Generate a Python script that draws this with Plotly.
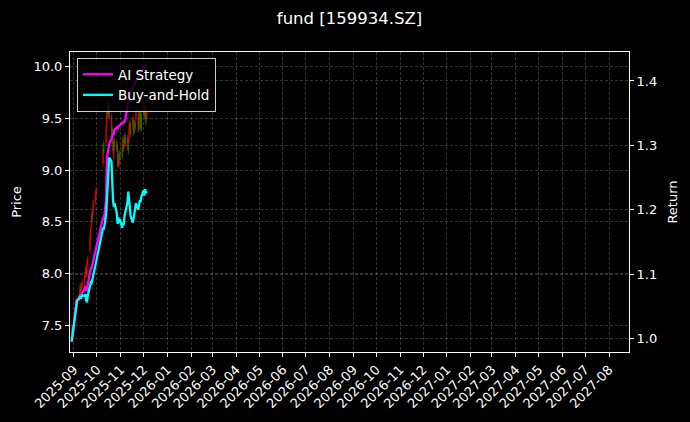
import plotly.graph_objects as go

dates = ["2025-08-29", "2025-09-01", "2025-09-02", "2025-09-03", "2025-09-04", "2025-09-05",
         "2025-09-08", "2025-09-09", "2025-09-10", "2025-09-11", "2025-09-12",
         "2025-09-15", "2025-09-16", "2025-09-17", "2025-09-18", "2025-09-19",
         "2025-09-22", "2025-09-23", "2025-09-24", "2025-09-25", "2025-09-26",
         "2025-09-29", "2025-09-30", "2025-10-09", "2025-10-10",
         "2025-10-13", "2025-10-14", "2025-10-15", "2025-10-16", "2025-10-17",
         "2025-10-20", "2025-10-21", "2025-10-22", "2025-10-23", "2025-10-24",
         "2025-10-27", "2025-10-28", "2025-10-29", "2025-10-30", "2025-10-31",
         "2025-11-03", "2025-11-04", "2025-11-05", "2025-11-06", "2025-11-07",
         "2025-11-10", "2025-11-11", "2025-11-12", "2025-11-13", "2025-11-14",
         "2025-11-17", "2025-11-18", "2025-11-19", "2025-11-20", "2025-11-21",
         "2025-11-24", "2025-11-25", "2025-11-26", "2025-11-27", "2025-11-28",
         "2025-12-01", "2025-12-02", "2025-12-03", "2025-12-04", "2025-12-05"]

price_open = [7.40, 7.46, 7.58, 7.65, 7.72, 7.68, 7.76, 7.80, 7.87, 7.83, 7.89,
              7.91, 7.98, 8.04, 7.99, 8.10, 8.22, 8.36, 8.47, 8.57, 8.58,
              8.69, 8.77, 9.06, 9.26, 9.26, 9.45, 9.66, 9.54, 9.62,
              9.36, 9.40, 9.28, 9.12, 9.28, 9.20, 9.22, 9.05, 9.06, 9.16,
              9.20, 9.31, 9.20, 9.24, 9.32, 9.22, 9.29, 9.29, 9.40, 9.44,
              9.42, 9.47, 9.38, 9.46, 9.51, 9.55, 9.40, 9.50, 9.55, 9.54,
              9.55, 9.61, 9.52, 9.57, 9.50]
price_close = [7.46, 7.58, 7.65, 7.72, 7.68, 7.76, 7.80, 7.87, 7.83, 7.89, 7.91,
               7.98, 8.04, 7.99, 8.10, 8.14, 8.36, 8.44, 8.57, 8.53, 8.69,
               8.77, 8.81, 9.20, 9.18, 9.42, 9.56, 9.54, 9.63, 9.50,
               9.52, 9.28, 9.18, 9.28, 9.22, 9.27, 9.06, 9.13, 9.16, 9.10,
               9.13, 9.21, 9.26, 9.33, 9.26, 9.31, 9.18, 9.42, 9.46, 9.35,
               9.51, 9.36, 9.45, 9.41, 9.58, 9.39, 9.50, 9.56, 9.41, 9.40,
               9.65, 9.52, 9.60, 9.46, 9.56]
price_high = [7.49, 7.61, 7.68, 7.75, 7.75, 7.79, 7.83, 7.90, 7.90, 7.92, 7.94,
              8.01, 8.07, 8.07, 8.13, 8.17, 8.39, 8.47, 8.60, 8.60, 8.72,
              8.80, 8.84, 9.23, 9.29, 9.45, 9.59, 9.69, 9.66, 9.65,
              9.55, 9.43, 9.31, 9.31, 9.31, 9.30, 9.25, 9.16, 9.19, 9.19,
              9.23, 9.34, 9.29, 9.36, 9.35, 9.34, 9.32, 9.45, 9.49, 9.47,
              9.54, 9.50, 9.48, 9.49, 9.61, 9.58, 9.53, 9.59, 9.58, 9.57,
              9.68, 9.64, 9.63, 9.60, 9.59]
price_low = [7.37, 7.43, 7.55, 7.62, 7.65, 7.65, 7.73, 7.77, 7.80, 7.80, 7.86,
             7.88, 7.95, 7.96, 7.96, 8.07, 8.19, 8.33, 8.44, 8.50, 8.55,
             8.66, 8.74, 9.03, 9.15, 9.23, 9.42, 9.51, 9.51, 9.47,
             9.33, 9.25, 9.15, 9.09, 9.19, 9.17, 9.03, 9.02, 9.03, 9.07,
             9.10, 9.18, 9.17, 9.21, 9.23, 9.19, 9.15, 9.26, 9.37, 9.32,
             9.39, 9.33, 9.35, 9.38, 9.48, 9.36, 9.37, 9.47, 9.38, 9.37,
             9.52, 9.49, 9.49, 9.43, 9.47]

ai_strategy = [0.995, 1.020, 1.031, 1.044, 1.047, 1.059, 1.063, 1.068, 1.066, 1.069, 1.072,
               1.078, 1.081, 1.075, 1.075, 1.084, 1.103, 1.109, 1.109, 1.114, 1.119,
               1.134, 1.141, 1.188, 1.184, 1.216, 1.280, 1.290, 1.297, 1.302,
               1.310, 1.315, 1.318, 1.316, 1.325, 1.328, 1.325, 1.329, 1.330, 1.332,
               1.335, 1.333, 1.335, 1.336, 1.340, 1.360, 1.368, 1.375, 1.380, 1.384,
               1.389, 1.393, 1.397, 1.398, 1.400, 1.405, 1.408, 1.411, 1.413, 1.416,
               1.422, 1.420, 1.423, 1.422, 1.423]
buy_and_hold = [0.995, 1.020, 1.031, 1.044, 1.047, 1.059, 1.062, 1.066, 1.062, 1.064, 1.067,
                1.066, 1.069, 1.059, 1.056, 1.066, 1.083, 1.087, 1.086, 1.091, 1.097,
                1.113, 1.119, 1.172, 1.169, 1.192, 1.216, 1.239, 1.263, 1.281,
                1.275, 1.240, 1.215, 1.205, 1.210, 1.195, 1.178, 1.188, 1.180, 1.185,
                1.172, 1.180, 1.176, 1.190, 1.195, 1.212, 1.228, 1.218, 1.205, 1.190,
                1.180, 1.186, 1.195, 1.203, 1.210, 1.200, 1.208, 1.215, 1.212, 1.220,
                1.230, 1.222, 1.232, 1.226, 1.229]

month_ticks_start = "2025-09-01"
x_range = ["2025-08-26 20:00", "2027-08-27"]
price_range = [7.239, 10.142]
return_range = [0.979, 1.445]

grid = "rgba(140,140,140,0.36)"
font_family = "DejaVu Sans"
tick_size = 13
label_size = 13.5

fig = go.Figure()
fig.add_trace(go.Candlestick(
    x=dates, open=price_open, high=price_high, low=price_low, close=price_close,
    increasing=dict(line=dict(color="rgba(255,0,0,0.85)", width=0.8), fillcolor="rgba(255,0,0,0.85)"),
    decreasing=dict(line=dict(color="rgba(0,140,0,0.85)", width=0.8), fillcolor="rgba(0,140,0,0.85)"),
    whiskerwidth=0, showlegend=False, yaxis="y", name="Price"))
fig.add_trace(go.Scatter(x=dates, y=ai_strategy, mode="lines", name="AI Strategy",
                         line=dict(color="#ff00ff", width=2.3), yaxis="y2"))
fig.add_trace(go.Scatter(x=dates, y=buy_and_hold, mode="lines", name="Buy-and-Hold",
                         line=dict(color="#00ffff", width=2.3), yaxis="y2"))

axis_common = dict(showline=True, linecolor="white", linewidth=1, ticks="outside",
                   ticklen=4, tickcolor="white", tickwidth=1, showgrid=True,
                   gridcolor=grid, gridwidth=0.5, griddash="3px,2px", zeroline=False,
                   automargin=False,
                   tickfont=dict(size=tick_size, color="white", family=font_family))

fig.update_layout(
    width=690, height=422,
    paper_bgcolor="black", plot_bgcolor="black",
    margin=dict(l=70, r=61, t=52, b=70, autoexpand=False),
    font=dict(family=font_family, color="white", size=tick_size),
    title=dict(text="fund [159934.SZ]", x=0.5, xref="paper", xanchor="center",
               y=1 - 18 / 422, yref="container", yanchor="middle",
               font=dict(size=16.5, color="white", family=font_family)),
    xaxis=dict(type="date", range=x_range, tick0=month_ticks_start, dtick="M1",
               tickformat="%Y-%m", tickangle=-45, mirror=True,
               rangeslider=dict(visible=False), **axis_common),
    yaxis=dict(range=price_range, dtick=0.5, tick0=7.5, tickformat=".1f",
               title=dict(text="Price", standoff=8, font=dict(size=tick_size)), **axis_common),
    yaxis2=dict(range=return_range, dtick=0.1, tick0=1.0, tickformat=".1f",
                overlaying="y", side="right",
                title=dict(text="Return", standoff=11, font=dict(size=tick_size)), **axis_common),
    legend=dict(x=0.0125, y=0.98, xanchor="left", yanchor="top",
                bgcolor="rgba(0,0,0,0.8)", bordercolor="rgba(255,255,255,0.8)",
                borderwidth=1,
                font=dict(size=label_size, color="white", family=font_family)),
)

fig.write_html("out.html", config={"displayModeBar": False})

# remove the browser's default page margin so the figure sits at the window origin
with open("out.html", "r", encoding="utf-8") as fh:
    html = fh.read()
html = html.replace("<head>", "<head><style>html,body{margin:0;padding:0;background:#000;}</style>", 1)
with open("out.html", "w", encoding="utf-8") as fh:
    fh.write(html)
